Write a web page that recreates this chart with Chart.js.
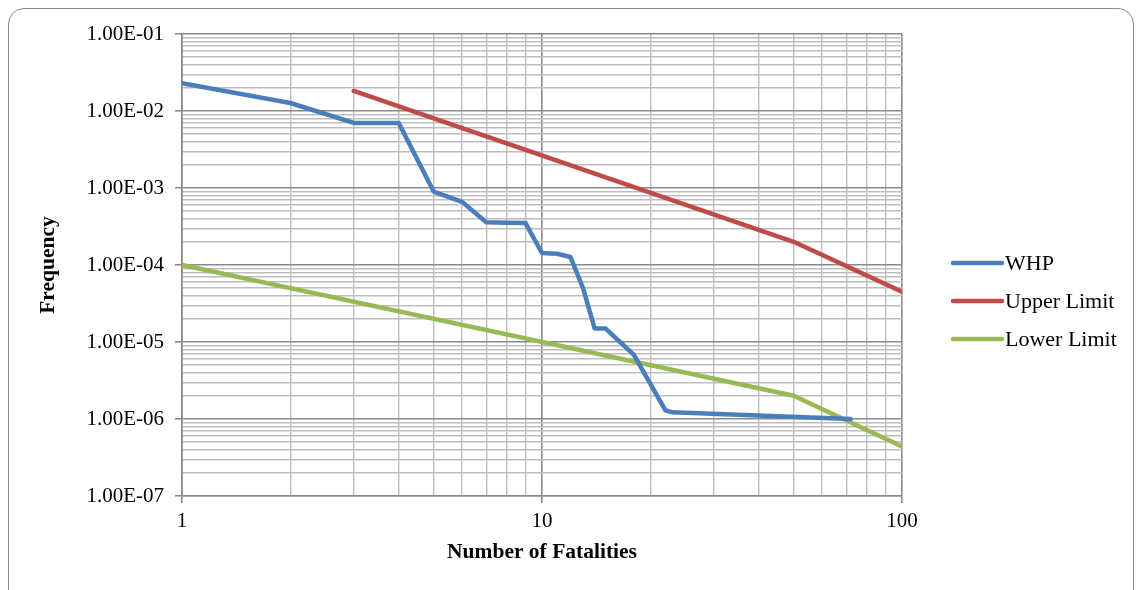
<!DOCTYPE html>
<html>
<head>
<meta charset="utf-8">
<script src="https://cdn.jsdelivr.net/npm/chart.js@4/dist/chart.umd.min.js"></script>
<style>
  html, body { margin: 0; padding: 0; background: #ffffff; overflow: hidden; }
  #frame { position: absolute; left: 8px; top: 8px; width: 1126px; height: 600px;
           border: 1.3px solid #8a8a8a; border-radius: 16px; box-sizing: border-box; }
  #wrap { position: absolute; left: 0; top: 0; width: 1139px; height: 590px; }
</style>
</head>
<body>
<div id="frame"></div>
<div id="wrap"><canvas id="c"></canvas></div>
<script>
// ---- data ----
const seriesNames = ['WHP', 'Upper Limit', 'Lower Limit'];
const whpX = [1, 2, 3, 4, 5, 6, 7, 8, 9, 10, 11, 12, 13, 14, 15, 18, 22, 23, 72];
const whpY = [2.3e-2, 1.27e-2, 7.0e-3, 7.0e-3, 9.0e-4, 6.6e-4, 3.6e-4, 3.55e-4, 3.5e-4, 1.43e-4, 1.4e-4, 1.27e-4, 5.0e-5, 1.5e-5, 1.5e-5, 6.8e-6, 1.3e-6, 1.22e-6, 1.0e-6];
const upperX = [3, 50, 100];
const upperY = [1.82e-2, 2.0e-4, 4.5e-5];
const lowerX = [1, 50, 100];
const lowerY = [1.0e-4, 2.0e-6, 4.4e-7];
const xTickLabels = ['1', '10', '100'];
const yTickLabels = ['1.00E-07', '1.00E-06', '1.00E-05', '1.00E-04', '1.00E-03', '1.00E-02', '1.00E-01'];
const xTitle = 'Number of Fatalities';
const yTitle = 'Frequency';
const colors = ['#4A7EBB', '#BE4B48', '#98B954'];

// ---- helpers ----
const xMajors = xTickLabels.map(Number);
const yMajors = yTickLabels.map(Number);
function logTicks(majors) {
  const out = [];
  for (let i = 0; i < majors.length - 1; i++) {
    for (let k = 1; k <= 9; k++) out.push(majors[i] * k);
  }
  out.push(majors[majors.length - 1]);
  return out;
}
function isMajor(v) {
  const l = Math.log10(v);
  return Math.abs(l - Math.round(l)) < 1e-9;
}
function labelFor(v, majors, labels) {
  for (let i = 0; i < majors.length; i++) {
    if (Math.abs(Math.log10(v) - Math.log10(majors[i])) < 1e-9) return labels[i];
  }
  return '';
}
const toPts = (xs, ys) => xs.map((x, i) => ({ x: x, y: ys[i] }));

const serif = "'Liberation Serif', 'Times New Roman', serif";
const minorGrid = '#bdbdbd';
const majorGrid = '#8a8a8a';

const legendPlugin = {
  id: 'customLegend',
  afterDraw(chart) {
    const ctx = chart.ctx;
    ctx.save();
    const rows = [263, 301, 339];
    chart.data.datasets.forEach((ds, i) => {
      const y = rows[i];
      ctx.strokeStyle = ds.borderColor;
      ctx.lineWidth = 4.5;
      ctx.lineCap = 'round';
      ctx.beginPath();
      ctx.moveTo(953, y);
      ctx.lineTo(1002, y);
      ctx.stroke();
      ctx.fillStyle = '#000';
      ctx.font = '22px ' + serif;
      ctx.textBaseline = 'middle';
      ctx.textAlign = 'left';
      ctx.fillText(ds.label, 1005, y + 1);
    });
    ctx.restore();
  }
};

const lineDs = (label, pts, color) => ({
  label: label, data: pts, borderColor: color, backgroundColor: color,
  borderWidth: 4.5, pointRadius: 0, pointHoverRadius: 0, showLine: true, fill: false,
  tension: 0, borderJoinStyle: 'round', borderCapStyle: 'round'
});

new Chart(document.getElementById('c'), {
  type: 'scatter',
  data: {
    datasets: [
      lineDs(seriesNames[0], toPts(whpX, whpY), colors[0]),
      lineDs(seriesNames[1], toPts(upperX, upperY), colors[1]),
      lineDs(seriesNames[2], toPts(lowerX, lowerY), colors[2])
    ]
  },
  options: {
    responsive: true,
    maintainAspectRatio: false,
    animation: false,
    layout: { padding: { left: 0, top: 34, right: 237, bottom: 0 } },
    plugins: { legend: { display: false }, tooltip: { enabled: false } },
    scales: {
      x: {
        type: 'logarithmic', min: xMajors[0], max: xMajors[xMajors.length - 1],
        afterBuildTicks: (s) => { s.ticks = logTicks(xMajors).map(v => ({ value: v })); },
        afterFit: (s) => { s.height = 94; },
        ticks: {
          autoSkip: false, maxRotation: 0, padding: 6, color: '#000',
          font: { family: serif, size: 21 },
          callback: (v) => labelFor(v, xMajors, xTickLabels)
        },
        grid: {
          color: (c) => (c.tick && isMajor(c.tick.value)) ? majorGrid : minorGrid,
          lineWidth: (c) => (c.tick && isMajor(c.tick.value)) ? 1.6 : 1.4,
          tickColor: (c) => (c.tick && isMajor(c.tick.value)) ? majorGrid : 'rgba(0,0,0,0)',
          tickLength: 7
        },
        border: { color: majorGrid, width: 1.6 },
        title: {
          display: true, text: xTitle, color: '#000',
          font: { family: serif, size: 21.5, weight: 'bold' },
          padding: { top: 0, bottom: 25 }
        }
      },
      y: {
        type: 'logarithmic', min: yMajors[0], max: yMajors[yMajors.length - 1],
        afterBuildTicks: (s) => { s.ticks = logTicks(yMajors).map(v => ({ value: v })); },
        afterFit: (s) => { s.width = 182; },
        ticks: {
          autoSkip: false, padding: 11, color: '#000',
          font: { family: serif, size: 21 },
          callback: (v) => labelFor(v, yMajors, yTickLabels)
        },
        grid: {
          color: (c) => (c.tick && isMajor(c.tick.value)) ? majorGrid : minorGrid,
          lineWidth: (c) => (c.tick && isMajor(c.tick.value)) ? 1.6 : 1.4,
          tickColor: (c) => (c.tick && isMajor(c.tick.value)) ? majorGrid : 'rgba(0,0,0,0)',
          tickLength: 7
        },
        border: { color: majorGrid, width: 1.6 },
        title: {
          display: true, text: yTitle, color: '#000',
          font: { family: serif, size: 21.5, weight: 'bold' },
          padding: { top: 36, bottom: 0 }
        }
      }
    }
  },
  plugins: [legendPlugin]
});
</script>
</body>
</html>
